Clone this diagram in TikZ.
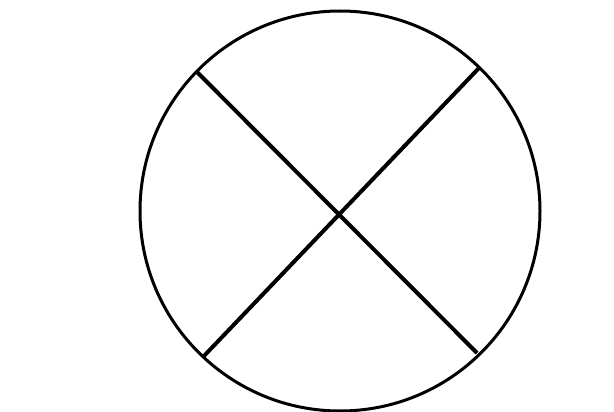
\documentclass[tikz,border=0pt]{standalone}
\begin{document}
\begin{tikzpicture}[x=1pt,y=-1pt,
  rim/.style={draw=black,line width=3pt},
  spoke/.style={draw=black,line width=4pt}]
\useasboundingbox (0,0) rectangle (614,412);
\fill[white] (0,0) rectangle (614,412);
\coordinate (c) at (340,211);
\draw[rim] (c) circle[radius=200];
\coordinate (tl) at (196,71);
\coordinate (tr) at (479,68);
\coordinate (bl) at (203,357);
\coordinate (br) at (477,353);
\draw[spoke] (tl) -- (br);
\draw[spoke] (tr) -- (bl);
\end{tikzpicture}
\end{document}
